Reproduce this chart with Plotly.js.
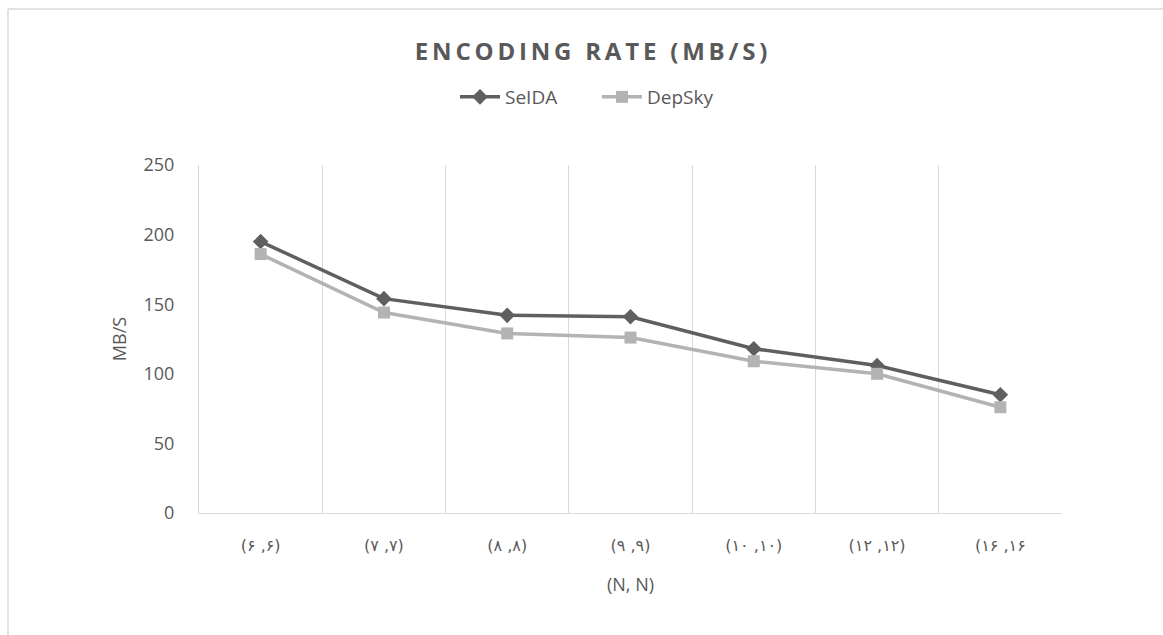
<!DOCTYPE html>
<html>
<head>
<meta charset="utf-8">
<script src="https://cdn.plot.ly/plotly-3.0.1.min.js"></script>
<style>
html,body{margin:0;padding:0;background:#fff;}
#chart{width:1163px;height:635px;}
.gtitle{letter-spacing:3.8px;}
.xtick text{letter-spacing:4px;}
</style>
</head>
<body>
<div id="chart"></div>
<script>
const categories = ["(۶ ,۶)", "(۷ ,۷)", "(۸ ,۸)", "(۹ ,۹)", "(۱۰ ,۱۰)", "(۱۲ ,۱۲)", "(۱۶ ,۱۶"];
const seidaValues = [195, 154, 142, 141, 118, 106, 85];
const depskyValues = [186, 144, 129, 126, 109, 100, 76];
const yTicks = [0, 50, 100, 150, 200, 250];

const txt = '#595959';
const traces = [
  {x: categories, y: seidaValues, name: 'SeIDA', type: 'scatter', mode: 'lines+markers',
   line: {color: '#5f5f5f', width: 3.5}, marker: {symbol: 'diamond', size: 12, color: '#5f5f5f'}},
  {x: categories, y: depskyValues, name: 'DepSky', type: 'scatter', mode: 'lines+markers',
   line: {color: '#b3b3b3', width: 3.5}, marker: {symbol: 'square', size: 12, color: '#b3b3b3'}}
];
const layout = {
  width: 1163, height: 635,
  margin: {l: 199, r: 101, t: 165, b: 122},
  paper_bgcolor: '#fff', plot_bgcolor: '#fff',
  font: {family: 'Open Sans, sans-serif', color: txt, size: 18},
  title: {text: 'ENCODING RATE (MB/S)', font: {size: 24, color: txt, weight: 'bold'},
          x: 593/1163, xref: 'container', xanchor: 'center', y: 1 - 52/635, yref: 'container', yanchor: 'middle'},
  showlegend: true,
  legend: {orientation: 'h', x: (597-199)/863, xanchor: 'center', y: 1 - 97/635, yref: 'container', yanchor: 'middle',
           font: {size: 19, color: txt}, itemwidth: 40, entrywidth: 87, traceorder: 'normal'},
  xaxis: {type: 'category', range: [-0.5, 6.5], tickson: 'boundaries', showgrid: true, gridcolor: '#d9d9d9', gridwidth: 1,
          showline: true, linecolor: '#d9d9d9', linewidth: 1, ticks: '', ticklabelstandoff: 18, zeroline: false,
          tickfont: {family: 'DejaVu Sans, sans-serif', size: 16, color: txt},
          title: {text: '(N, N)', font: {size: 18, color: txt}, standoff: 24}, fixedrange: true},
  yaxis: {range: [0, 250], tickvals: yTicks, showgrid: false, zeroline: false, showline: true,
          linecolor: '#d9d9d9', linewidth: 1, ticks: 'outside', ticklen: 20, tickcolor: 'rgba(0,0,0,0)',
          tickfont: {size: 18, color: txt},
          title: {text: 'MB/S', font: {size: 18, color: txt}, standoff: 12}},
  shapes: [
    {type: 'line', xref: 'paper', yref: 'paper', x0: -191/863, x1: 1.3, y0: 1 + (165-9)/348, y1: 1 + (165-9)/348, line: {color: '#d9d9d9', width: 1.5}},
    {type: 'line', xref: 'paper', yref: 'paper', x0: -191/863, x1: -191/863, y0: -0.5, y1: 1 + (165-9)/348, line: {color: '#d9d9d9', width: 1.5}}
  ]
};
Plotly.newPlot('chart', traces, layout, {displayModeBar: false, staticPlot: true});
</script>
</body>
</html>
